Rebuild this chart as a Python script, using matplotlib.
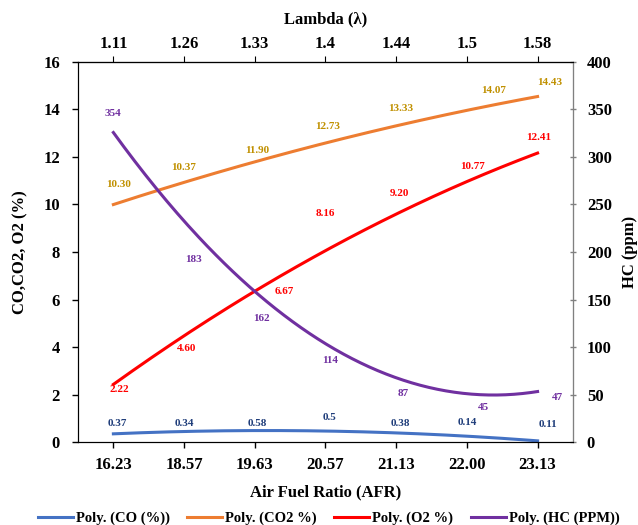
import numpy as np
import matplotlib.pyplot as plt

plt.rcParams['font.family'] = ['Liberation Serif', 'DejaVu Serif']
plt.rcParams['font.weight'] = 'bold'

# data
afr = ["16.23", "18.57", "19.63", "20.57", "21.13", "22.00", "23.13"]
lam = ["1.11", "1.26", "1.33", "1.4", "1.44", "1.5", "1.58"]
co = [0.37, 0.34, 0.58, 0.5, 0.38, 0.14, 0.11]
co2 = [10.30, 10.37, 11.90, 12.73, 13.33, 14.07, 14.43]
o2 = [2.22, 4.60, 6.67, 8.16, 9.20, 10.77, 12.41]
hc = [354, 183, 162, 114, 87, 45, 47]
co_txt = ["0.37", "0.34", "0.58", "0.5", "0.38", "0.14", "0.11"]
co2_txt = ["10.30", "10.37", "11.90", "12.73", "13.33", "14.07", "14.43"]
o2_txt = ["2.22", "4.60", "6.67", "8.16", "9.20", "10.77", "12.41"]
hc_txt = ["354", "183", "162", "114", "87", "45", "47"]

# where the value labels sit (moved by hand in the original)
co_lab = [(1.06, 0.8), (2.0, 0.8), (3.04, 0.8), (4.05, 1.05), (5.06, 0.8), (6.01, 0.83), (7.14, 0.72)]
co2_lab = [(1.08, 10.86), (2.0, 11.54), (3.04, 12.29), (4.03, 13.3), (5.06, 14.02), (6.38, 14.78), (7.17, 15.12)]
o2_lab = [(1.08, 2.23), (2.03, 3.92), (3.41, 6.32), (4.0, 9.64), (5.05, 10.48), (6.08, 11.62), (7.01, 12.8)]
hc_lab = [(0.99, 346), (2.13, 191.6), (3.09, 130.5), (4.07, 86.3), (5.1, 51.6), (6.24, 36.8), (7.28, 47.4)]

x = np.arange(1, 8)
xs = np.linspace(1, 7, 200)

def trend(y):
    return np.polyval(np.polyfit(x, y, 2), xs)

fig = plt.figure(figsize=(6.38, 5.25), dpi=100)
ax = fig.add_axes([0.1223, 0.158, 0.7757, 0.724])
ax2 = ax.twinx()

l1, = ax.plot(xs, trend(co), color='#4472C4', lw=2.2, label='Poly. (CO (%))')
l2, = ax.plot(xs, trend(co2), color='#ED7D31', lw=2.2, label='Poly. (CO2 %)')
l3, = ax.plot(xs, trend(o2), color='#FF0000', lw=2.2, label='Poly. (O2 %)')
l4, = ax2.plot(xs, trend(hc), color='#7030A0', lw=2.2, label='Poly. (HC (PPM))')

for (px, py), t in zip(co_lab, co_txt):
    ax.text(px, py, t, color='#1F3D7A', fontsize=8, ha='center', va='center', fontweight='bold')
for (px, py), t in zip(co2_lab, co2_txt):
    ax.text(px, py, t, color='#C09000', fontsize=8, ha='center', va='center', fontweight='bold')
for (px, py), t in zip(o2_lab, o2_txt):
    ax.text(px, py, t, color='#FF0000', fontsize=8, ha='center', va='center', fontweight='bold')
for (px, py), t in zip(hc_lab, hc_txt):
    ax2.text(px, py, t, color='#7030A0', fontsize=8, ha='center', va='center', fontweight='bold')

ax.set_xlim(0.5, 7.5)
ax.set_ylim(0, 16)
ax2.set_ylim(0, 400)
ax.set_xticks(x)
ax.set_xticklabels(afr)
ax.set_yticks(range(0, 17, 2))
ax2.set_yticks(range(0, 401, 50))
ax.tick_params(axis='x', labelsize=12, length=4, width=1, pad=7)
ax.tick_params(axis='y', labelsize=12, length=4, width=1, pad=9)
ax2.tick_params(labelsize=12, length=4, width=1, direction='inout', color='#808080', pad=8)
ax2.spines['right'].set_color('#808080')

top = ax.secondary_xaxis('top')
top.set_xticks(x)
top.set_xticklabels(lam)
top.tick_params(labelsize=12, length=4)
top.set_xlabel('Lambda (λ)', fontsize=12, fontweight='bold', labelpad=9)

ax.set_xlabel('Air Fuel Ratio (AFR)', fontsize=12, fontweight='bold', labelpad=8)
ax.set_ylabel('CO,CO2, O2 (%)', fontsize=12, fontweight='bold', labelpad=11)
ax2.set_ylabel('HC (ppm)', fontsize=12, fontweight='bold', labelpad=7)

fig.legend(handles=[l1, l2, l3, l4], loc='center', bbox_to_anchor=(0.515, 0.013),
           ncol=4, frameon=False, fontsize=10.5, handlelength=2.4, columnspacing=1.2,
           handletextpad=0.2)

fig.savefig('out.png', dpi=100)
